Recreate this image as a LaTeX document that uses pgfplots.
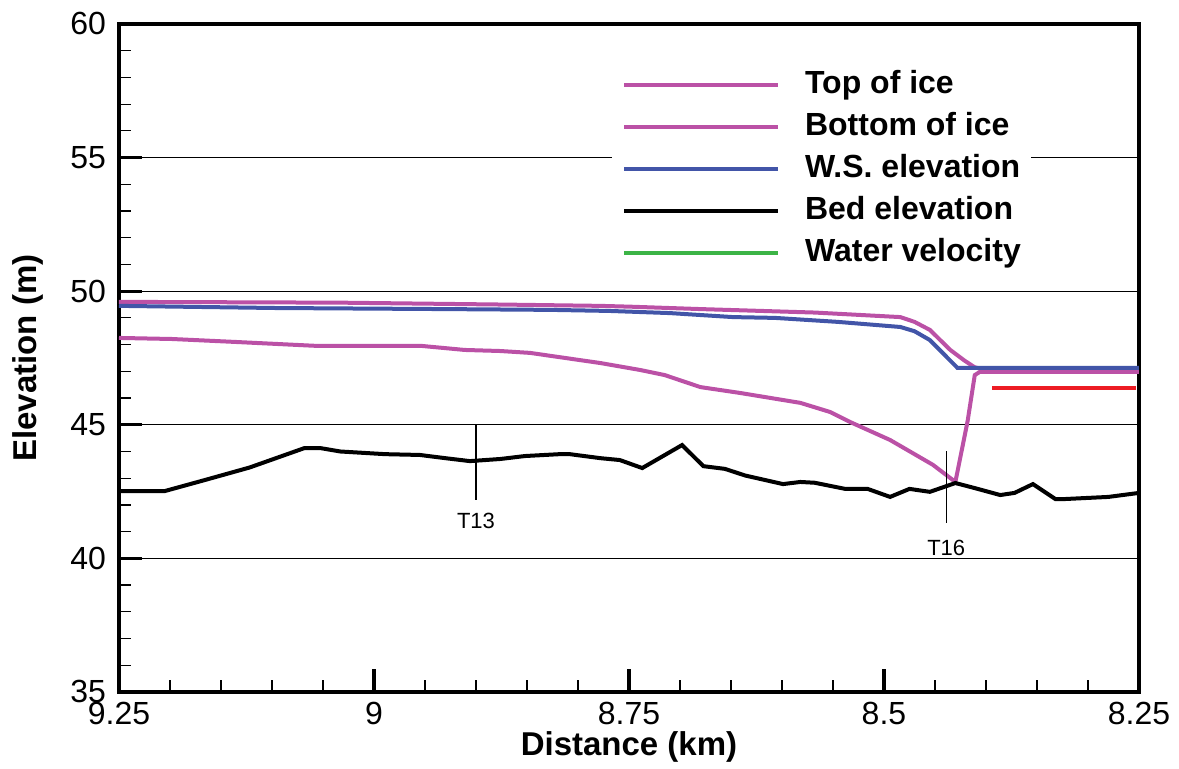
\documentclass[border=0pt]{standalone}
\usepackage{fontspec}
\setmainfont{Liberation Sans}
\usepackage{pgfplots}
\pgfplotsset{compat=1.18}
\definecolor{icemag}{RGB}{187,81,166}
\definecolor{wsblue}{RGB}{66,85,168}
\definecolor{velgreen}{RGB}{60,180,70}
\definecolor{velred}{RGB}{237,28,36}
\begin{document}
\begin{tikzpicture}
\path[use as bounding box] (-59.5pt,-38.5pt) rectangle (530pt,346pt);
\begin{axis}[
  scale only axis, width=510pt, height=334pt,
  x dir=reverse, xmin=8.25, xmax=9.25, ymin=35, ymax=60,
  xtick={8.25,8.5,8.75,9,9.25}, xticklabels={8.25,8.5,8.75,9,9.25},
  ytick={35,40,45,50,55,60}, yticklabels={35,40,45,50,55,60},
  minor x tick num=4, minor y tick num=4,
  tick pos=left, tick align=inside,
  major tick length=11.5pt, minor tick length=6pt,
  every major tick/.style={line width=1.6pt, black},
  every minor tick/.style={line width=0.6pt, black},
  axis line style={line width=1.8pt},
  ymajorgrids, major grid style={line width=0.6pt, black},
  tick label style={font=\fontsize{16}{19}\selectfont},
  xticklabel style={yshift=-1.5pt},
  yticklabel style={xshift=-3pt},
  xlabel={Distance (km)}, ylabel={Elevation (m)},
  label style={font=\bfseries\fontsize{16.5}{19}\selectfont},
  xlabel style={at={(axis description cs:0.5,-0.0823)}, anchor=center},
  ylabel style={at={(axis description cs:-0.0892,0.5)}, anchor=center},
  legend style={at={(axis description cs:0.483,0.945)}, anchor=north west,
    draw=none, fill=white, font=\bfseries\fontsize{16}{19}\selectfont,
    inner xsep=5pt, inner ysep=4pt,
    nodes={inner sep=0pt, text height=12pt, text depth=3.5pt},
    row sep=5.5pt, column sep=12.5pt,
    legend cell align=left},
  legend image code/.code={\draw[#1] (0pt,0pt) -- (77pt,0pt);},
]
\addplot[icemag, line width=2pt] coordinates {
(9.25,49.6) (9.033,49.57) (8.876,49.5) (8.778,49.45) (8.749,49.42) (8.680,49.33)
(8.568,49.2) (8.484,49.03) (8.470,48.85) (8.455,48.55) (8.435,47.8) (8.421,47.4)
(8.411,47.15) (8.40,47.05) (8.25,47.05)};
\addlegendentry{Top of ice}
\addplot[icemag, line width=2pt] coordinates {
(9.25,48.25) (9.198,48.21) (9.136,48.1) (9.055,47.95) (8.953,47.95) (8.911,47.8)
(8.876,47.76) (8.847,47.69) (8.778,47.31) (8.739,47.05) (8.715,46.86) (8.680,46.41)
(8.641,46.19) (8.582,45.82) (8.553,45.48) (8.533,45.1) (8.494,44.43) (8.452,43.5)
(8.430,42.86) (8.418,45.14) (8.411,46.86) (8.406,46.98) (8.25,46.98)};
\addlegendentry{Bottom of ice}
\addplot[wsblue, line width=2pt] coordinates {
(9.25,49.45) (9.097,49.37) (8.932,49.33) (8.827,49.3) (8.769,49.26) (8.710,49.18)
(8.648,49.03) (8.607,49.0) (8.545,48.85) (8.484,48.66) (8.470,48.5) (8.455,48.17)
(8.428,47.13) (8.25,47.13)};
\addlegendentry{W.S. elevation}
\addplot[black, line width=2pt] coordinates {
(9.25,42.52) (9.205,42.52) (9.166,42.93) (9.122,43.4) (9.068,44.13) (9.053,44.13)
(9.033,44.0) (8.989,43.9) (8.955,43.87) (8.930,43.75) (8.906,43.64) (8.876,43.72)
(8.852,43.83) (8.818,43.9) (8.808,43.9) (8.778,43.75) (8.759,43.68) (8.737,43.38)
(8.698,44.24) (8.677,43.45) (8.656,43.35) (8.636,43.1) (8.599,42.78) (8.582,42.86)
(8.568,42.83) (8.538,42.6) (8.516,42.6) (8.494,42.3) (8.475,42.6) (8.455,42.49)
(8.430,42.82) (8.411,42.63) (8.386,42.37) (8.372,42.45) (8.354,42.78) (8.332,42.22)
(8.323,42.22) (8.280,42.3) (8.25,42.45)};
\addlegendentry{Bed elevation}
\addplot[velgreen, line width=2pt] coordinates {(8.25,-10)};
\addlegendentry{Water velocity}
\addplot[velred, line width=2pt, forget plot] coordinates {(8.394,46.38) (8.253,46.38)};
\addplot[black, line width=0.7pt, forget plot] coordinates {(8.90,45.0) (8.90,42.2)};
\addplot[black, line width=0.7pt, forget plot] coordinates {(8.439,44.0) (8.439,41.33)};
\node[font=\fontsize{11}{13}\selectfont] at (axis cs:8.90,41.4) {T13};
\node[font=\fontsize{11}{13}\selectfont] at (axis cs:8.439,40.4) {T16};
\end{axis}
\end{tikzpicture}
\end{document}
